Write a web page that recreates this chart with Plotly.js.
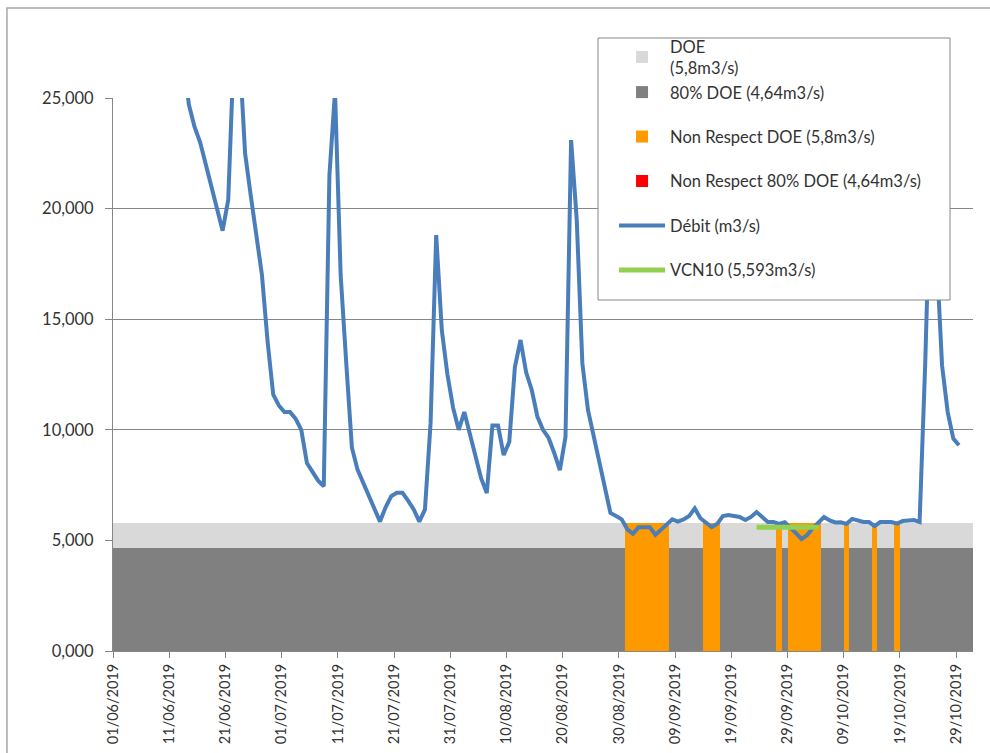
<!DOCTYPE html>
<html>
<head>
<meta charset="utf-8">
<script src="https://cdn.plot.ly/plotly-3.0.1.min.js"></script>
<style>
  html, body { margin: 0; padding: 0; background: #ffffff; }
  #chart { width: 990px; height: 753px; }
</style>
</head>
<body>
<div id="chart"></div>
<script>
// ---- Data (m3/s) ----
const startDate = [2019, 5, 1];   // 01/06/2019 (month is 0-based)
const nDays = 153;                // 01/06/2019 .. 31/10/2019

// Daily flow "Débit (m3/s)" from 01/06/2019 to 29/10/2019
const debit = [
  42.0, 39.0, 36.5, 34.0, 32.5, 31.0, 30.0, 29.5, 29.0, 28.5,
  28.0, 27.5, 26.8, 24.7, 23.7, 23.0, 22.0, 21.0, 20.0, 19.0,
  20.4, 27.2, 27.1, 22.5, 20.6, 18.9, 17.0, 14.0, 11.6, 11.1,
  10.8, 10.8, 10.5, 10.0, 8.5, 8.1, 7.7, 7.45, 21.5, 25.3,
  17.0, 13.0, 9.2, 8.2, 7.6, 7.0, 6.5, 5.85, 6.5, 7.0,
  7.15, 7.15, 6.8, 6.4, 5.85, 6.4, 10.3, 18.8, 14.5, 12.5,
  11.0, 10.0, 10.8, 9.85, 8.8, 7.8, 7.14, 10.2, 10.2, 8.86,
  9.45, 12.84, 14.06, 12.6, 11.8, 10.6, 10.0, 9.63, 8.95, 8.18,
  9.67, 23.1, 19.5, 13.0, 10.9, 9.7, 8.7, 7.3, 6.24, 6.1,
  5.95, 5.5, 5.3, 5.6, 5.6, 5.6, 5.25, 5.5, 5.75, 5.95,
  5.85, 5.95, 6.1, 6.45, 6.0, 5.78, 5.6, 5.75, 6.1, 6.15,
  6.1, 6.06, 5.92, 6.06, 6.28, 6.06, 5.83, 5.83, 5.75, 5.82,
  5.6, 5.33, 5.06, 5.24, 5.56, 5.79, 6.06, 5.9, 5.81, 5.82,
  5.75, 5.97, 5.92, 5.83, 5.83, 5.65, 5.83, 5.81, 5.83, 5.76,
  5.88, 5.9, 5.92, 5.83, 13.0, 22.0, 18.0, 12.9, 10.8, 9.6,
  9.3
];

const DOE = 5.8;          // DOE (5,8 m3/s)
const DOE80 = 4.64;       // 80% DOE (4,64 m3/s)
const VCN10 = 5.593;      // VCN10 (5,593 m3/s)
const vcnStartIdx = 114;  // 23/09/2019
const vcnEndIdx = 125;    // 04/10/2019

const tickStart = '2019-06-01';
const tickStepDays = 10;

// ---- Build series ----
function pad(n) { return (n < 10 ? '0' : '') + n; }
const dates = [];
for (let i = 0; i < nDays; i++) {
  const d = new Date(Date.UTC(startDate[0], startDate[1], startDate[2] + i));
  dates.push(d.getUTCFullYear() + '-' + pad(d.getUTCMonth() + 1) + '-' + pad(d.getUTCDate()) + ' 12:00');
}
const DAY = 86400000;
const doeBars = dates.map(() => DOE);
const doe80Bars = dates.map(() => DOE80);
const nonRespDOE = dates.map((_, i) => (debit[i] != null && debit[i] < DOE && debit[i] >= DOE80) ? DOE : null);
const nonResp80 = dates.map((_, i) => (debit[i] != null && debit[i] < DOE80) ? DOE80 : null);
const debitY = dates.map((_, i) => (i < debit.length ? debit[i] : null));
const vcnY = dates.map((_, i) => (i >= vcnStartIdx && i <= vcnEndIdx) ? VCN10 : null);

const FONT = 'Lato, "Liberation Sans", sans-serif';
const TXT = '#333333';
const GRID = '#878787';

const traces = [
  { type: 'bar', name: 'DOE<br>(5,8m3/s)', x: dates, y: doeBars, width: DAY,
    marker: { color: '#d9d9d9', line: { width: 0 } }, legendgroup: 'g1', hoverinfo: 'skip' },
  { type: 'bar', name: '80% DOE (4,64m3/s)', x: dates, y: doe80Bars, width: DAY,
    marker: { color: '#808080', line: { width: 0 } }, legendgroup: 'g1', hoverinfo: 'skip' },
  { type: 'bar', name: 'Non Respect DOE (5,8m3/s)', x: dates, y: nonRespDOE, width: DAY,
    marker: { color: '#ff9900', line: { width: 0 } }, legendgroup: 'g2' },
  { type: 'bar', name: 'Non Respect 80% DOE (4,64m3/s)', x: dates, y: nonResp80, width: DAY,
    marker: { color: '#ff0000', line: { width: 0 } }, legendgroup: 'g3' },
  { type: 'scatter', mode: 'lines', name: 'Débit (m3/s)', x: dates, y: debitY,
    line: { color: '#4a7ebb', width: 4 }, legendgroup: 'g4' },
  { type: 'scatter', mode: 'lines', name: 'VCN10 (5,593m3/s)', x: dates, y: vcnY,
    line: { color: '#92d050', width: 5 }, legendgroup: 'g5' }
];

const layout = {
  width: 990, height: 753,
  margin: { l: 113, r: 17, t: 98, b: 102 },
  paper_bgcolor: '#ffffff', plot_bgcolor: '#ffffff',
  separators: ', ',
  barmode: 'overlay', bargap: 0,
  font: { family: FONT, size: 16, color: TXT },
  xaxis: {
    type: 'date',
    range: ['2019-06-01', '2019-11-01'],
    tick0: tickStart, dtick: tickStepDays * DAY,
    tickformat: '%d/%m/%Y', tickangle: -90,
    ticks: 'outside', ticklen: 6, tickcolor: GRID,
    showline: true, linecolor: GRID, showgrid: false, zeroline: false,
    tickfont: { family: FONT, size: 14.5, color: TXT }
  },
  yaxis: {
    range: [0, 25], dtick: 5, tickformat: '.3f',
    ticks: 'outside', ticklen: 7, tickcolor: GRID,
    showline: true, linecolor: GRID, showgrid: true, gridcolor: GRID, gridwidth: 1,
    zeroline: false, ticklabelstandoff: 8,
    tickfont: { family: FONT, size: 16.5, color: TXT }
  },
  legend: {
    x: 0.5826, y: 1.1248, xanchor: 'left', yanchor: 'top',
    bgcolor: 'rgba(0,0,0,0)', borderwidth: 0,
    font: { family: FONT, size: 16.5, color: TXT },
    traceorder: 'grouped', tracegroupgap: 20, itemwidth: 46,
    itemclick: false, itemdoubleclick: false
  },
  shapes: [
    // outer chart border
    { type: 'rect', xref: 'paper', yref: 'paper',
      x0: -0.1233, x1: 1.05, y0: -0.25, y1: 1.1627,
      line: { color: '#a6a6a6', width: 1.5 }, fillcolor: 'rgba(0,0,0,0)', layer: 'below' },
    // legend box (drawn over the plot, under the legend)
    { type: 'rect', xref: 'paper', yref: 'paper',
      x0: 0.5640, x1: 0.9733, y0: 0.6347, y1: 1.1085,
      line: { color: GRID, width: 1 }, fillcolor: '#ffffff', layer: 'above' }
  ],
  showlegend: true
};

Plotly.newPlot('chart', traces, layout, { displayModeBar: false, staticPlot: true });
</script>
</body>
</html>
